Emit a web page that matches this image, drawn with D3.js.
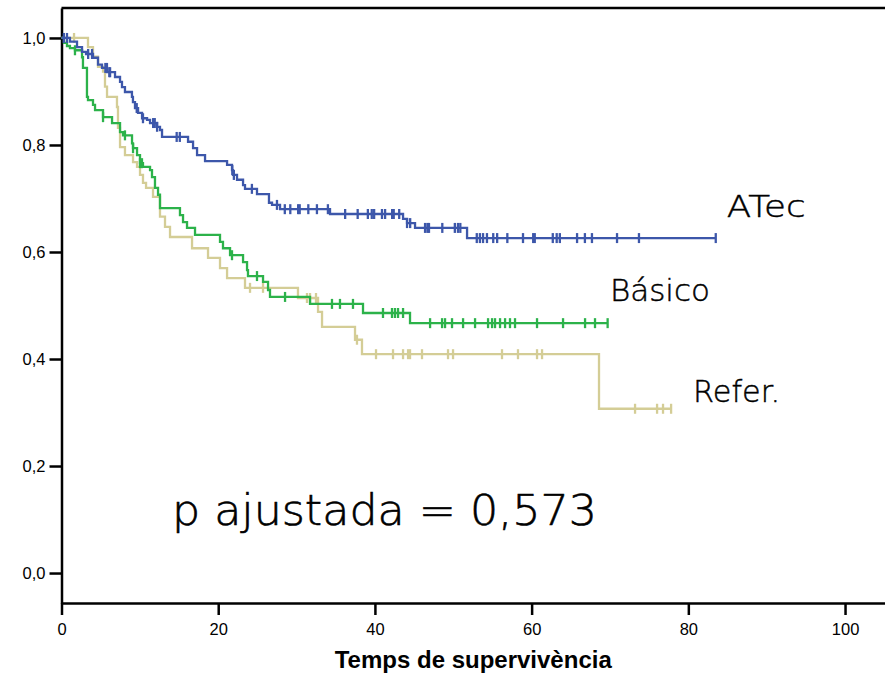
<!DOCTYPE html>
<html>
<head>
<meta charset="utf-8">
<script src="https://cdn.jsdelivr.net/npm/d3@7"></script>
<style>
    body { margin: 0; background: #fff; }
    svg { display: block; }
    .tick text { font-family: "Liberation Sans", Arial, sans-serif; font-size: 16.5px; fill: #000; }
    .label { font-family: "DejaVu Sans", sans-serif; font-weight: 200; fill: #000; stroke: #000; stroke-width: 0.45px; }
</style>
</head>
<body>
<div id="main"></div>
<script>
const ctx = {
    SVG_W: 885,
    SVG_H: 674,
    LEFT: 61.5,
    TOP: 8,
    RIGHT: 885,
    BOTTOM: 603,
};

// series names
const groups = ["ATec", "Básico", "Refer."];

// step points: time where the curve drops, and survival from that time on
const atecTimes = [0, 1.08, 1.98, 2.62, 3.13, 4.02, 4.66, 5.17, 5.81, 6.83, 7.47, 7.72, 8.10, 8.99, 9.12, 9.38, 9.77, 10.28, 10.92, 11.30, 12.19, 12.57, 12.83, 16.15, 16.79, 17.30, 18.32, 21.13, 21.76, 21.89, 22.40, 23.17, 23.42, 24.95, 26.48, 26.87, 27.89, 34.27, 43.59, 44.10, 45.12, 51.76];
const atecSurv = [1.0, 0.993, 0.983, 0.974, 0.970, 0.963, 0.950, 0.944, 0.936, 0.927, 0.918, 0.908, 0.899, 0.890, 0.880, 0.869, 0.860, 0.850, 0.847, 0.841, 0.834, 0.828, 0.815, 0.806, 0.794, 0.781, 0.770, 0.763, 0.753, 0.744, 0.735, 0.725, 0.718, 0.708, 0.692, 0.688, 0.680, 0.671, 0.662, 0.654, 0.645, 0.626];
const atecCensored = [0.3, 0.7, 3.4, 3.9, 5.6, 5.8, 6.1, 6.2, 9.6, 10.4, 11.7, 11.9, 12.2, 14.7, 15.1, 21.8, 22.0, 24.3, 27.5, 28.5, 29.2, 30.2, 30.4, 31.5, 32.6, 34.0, 36.2, 37.8, 39.1, 39.6, 39.9, 40.9, 41.3, 42.2, 42.4, 43.1, 44.1, 44.5, 46.4, 46.7, 46.9, 48.6, 50.2, 50.6, 50.9, 53.0, 53.4, 53.8, 54.3, 55.1, 55.6, 56.9, 58.9, 60.2, 60.4, 62.7, 63.2, 63.6, 65.8, 66.8, 67.7, 70.9, 73.7, 83.5];

const basicTimes = [0, 0.32, 0.70, 1.08, 1.72, 2.62, 2.74, 3.25, 3.38, 4.02, 4.28, 5.30, 6.45, 7.47, 7.85, 9.00, 9.13, 9.64, 10.02, 10.40, 11.30, 11.55, 11.93, 12.32, 12.57, 15.12, 15.51, 16.02, 17.04, 20.23, 20.61, 21.51, 23.17, 23.68, 23.80, 25.72, 26.36, 26.61, 31.72, 38.48, 44.48];
const basicSurv = [1.0, 0.991, 0.985, 0.981, 0.977, 0.964, 0.944, 0.890, 0.884, 0.875, 0.865, 0.852, 0.841, 0.824, 0.818, 0.803, 0.794, 0.781, 0.766, 0.759, 0.753, 0.740, 0.720, 0.707, 0.682, 0.669, 0.656, 0.645, 0.632, 0.619, 0.607, 0.594, 0.581, 0.566, 0.555, 0.544, 0.529, 0.516, 0.503, 0.486, 0.467];
const basicCensored = [1.72, 5.30, 8.10, 9.13, 10.02, 10.27, 21.76, 24.95, 28.53, 34.52, 35.54, 37.20, 41.03, 42.18, 42.56, 42.95, 43.59, 47.04, 48.57, 48.95, 49.84, 51.25, 52.78, 54.44, 54.95, 55.33, 55.97, 56.61, 57.24, 57.88, 60.69, 64.01, 66.82, 68.09, 69.7];

const referTimes = [0, 3.38, 4.02, 4.66, 5.30, 5.55, 5.81, 7.08, 7.21, 7.47, 8.10, 9.13, 9.64, 10.02, 10.40, 10.79, 11.68, 12.57, 13.21, 13.85, 16.66, 18.70, 20.23, 21.13, 23.42, 30.18, 32.74, 33.25, 37.46, 38.35, 68.60];
const referSurv = [1.0, 0.983, 0.965, 0.946, 0.937, 0.909, 0.890, 0.871, 0.832, 0.796, 0.781, 0.768, 0.759, 0.744, 0.729, 0.720, 0.703, 0.666, 0.647, 0.628, 0.607, 0.589, 0.570, 0.551, 0.533, 0.514, 0.488, 0.460, 0.436, 0.409, 0.307];
const referCensored = [1.60, 24.06, 25.72, 31.33, 31.72, 32.48, 37.71, 40.14, 42.31, 43.59, 44.23, 44.48, 46.01, 49.33, 49.97, 56.22, 58.26, 60.69, 61.33, 73.20, 76.01, 76.77, 77.8];

const colors = ["#3d57aa", "#2cb24a", "#d4cd96"];

const xTicks = [0, 20, 40, 60, 80, 100];
const yTicks = [0, 0.2, 0.4, 0.6, 0.8, 1.0];

const pText = "p ajustada = 0,573";
const xTitle = "Temps de supervivència";

function survAt(times, surv, t) {
    let i = d3.bisectRight(times, t) - 1;
    return surv[Math.max(0, i)];
}

function drawCurve(svgEl, times, surv, censored, color) {
    let tEnd = d3.max(censored);
    let pts = times.map(function (t, i) { return [t, surv[i]]; });
    pts.push([tEnd, survAt(times, surv, tEnd)]);
    let line = d3.line()
        .x(function (d) { return ctx.x(d[0]); })
        .y(function (d) { return ctx.y(d[1]); })
        .curve(d3.curveStepAfter);
    let g = svgEl.append("g").attr("class", "curve");
    g.append("path")
        .attr("d", line(pts))
        .attr("fill", "none")
        .attr("stroke", color)
        .attr("stroke-width", 2.3);
    g.selectAll("line")
        .data(censored)
        .enter()
        .append("line")
        .attr("x1", function (d) { return ctx.x(d); })
        .attr("x2", function (d) { return ctx.x(d); })
        .attr("y1", function (d) { return ctx.y(survAt(times, surv, d)) - 5; })
        .attr("y2", function (d) { return ctx.y(survAt(times, surv, d)) + 5; })
        .attr("stroke", color)
        .attr("stroke-width", 2.3);
}

function createViz() {
    let svgEl = d3.select("#main").append("svg")
        .attr("width", ctx.SVG_W)
        .attr("height", ctx.SVG_H);

    ctx.x = d3.scaleLinear().domain([0, 105.1]).range([ctx.LEFT, ctx.RIGHT]);
    ctx.y = d3.scaleLinear().domain([-0.056, 1.056]).range([ctx.BOTTOM, ctx.TOP]);

    // axes
    svgEl.append("g")
        .attr("transform", "translate(0," + ctx.BOTTOM + ")")
        .call(d3.axisBottom(ctx.x).tickValues(xTicks).tickSize(12).tickSizeOuter(0).tickPadding(8));
    svgEl.append("g")
        .attr("transform", "translate(" + ctx.LEFT + ",0)")
        .call(d3.axisLeft(ctx.y).tickValues(yTicks).tickSize(12).tickSizeOuter(0).tickPadding(4)
            .tickFormat(function (d) { return d3.format(".1f")(d).replace(".", ","); }));
    svgEl.selectAll(".domain").attr("stroke", "#000").attr("stroke-width", 2.5);
    svgEl.selectAll(".tick line").attr("stroke", "#000").attr("stroke-width", 2.5);

    // top frame line
    svgEl.append("line")
        .attr("x1", ctx.LEFT).attr("x2", ctx.RIGHT)
        .attr("y1", ctx.TOP).attr("y2", ctx.TOP)
        .attr("stroke", "#000").attr("stroke-width", 2.5);

    // curves
    drawCurve(svgEl, referTimes, referSurv, referCensored, colors[2]);
    drawCurve(svgEl, basicTimes, basicSurv, basicCensored, colors[1]);
    drawCurve(svgEl, atecTimes, atecSurv, atecCensored, colors[0]);

    // group labels
    let labelPos = [[84.9, 0.665], [70.0, 0.508], [80.6, 0.320]];
    let labelLen = [79, 100, 87];
    svgEl.selectAll(".glabel")
        .data(groups)
        .enter()
        .append("text")
        .attr("class", "label glabel")
        .attr("x", function (d, i) { return ctx.x(labelPos[i][0]); })
        .attr("y", function (d, i) { return ctx.y(labelPos[i][1]); })
        .attr("font-size", 30)
        .attr("textLength", function (d, i) { return labelLen[i]; })
        .attr("lengthAdjust", "spacingAndGlyphs")
        .text(function (d) { return d; });

    svgEl.append("text")
        .attr("class", "label")
        .attr("x", ctx.x(14.1))
        .attr("y", ctx.y(0.09))
        .attr("font-size", 43)
        .attr("textLength", 425)
        .attr("lengthAdjust", "spacingAndGlyphs")
        .style("stroke-width", "0.6px")
        .text(pText);

    svgEl.append("text")
        .attr("x", (ctx.LEFT + ctx.RIGHT) / 2)
        .attr("y", 668)
        .attr("text-anchor", "middle")
        .attr("font-family", "Liberation Sans, Arial, sans-serif")
        .attr("font-weight", "bold")
        .attr("font-size", 24)
        .text(xTitle);
}

createViz();
</script>
</body>
</html>
